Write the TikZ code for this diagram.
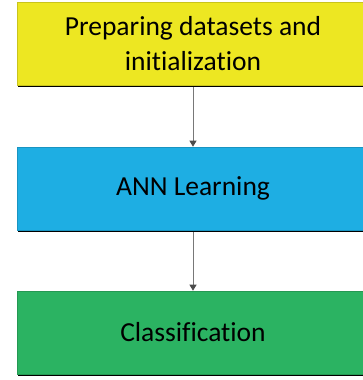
\documentclass[tikz,border=0pt]{standalone}
\usepackage{fontspec}
\setmainfont[Ligatures=NoCommon]{Carlito}
\usetikzlibrary{arrows.meta,shadows}
\definecolor{cyel}{RGB}{237,231,34}
\definecolor{cblu}{RGB}{30,174,227}
\definecolor{cgrn}{RGB}{43,179,98}
\definecolor{carr}{RGB}{120,120,120}
\begin{document}
\begin{tikzpicture}[x=1pt,y=-1pt,
  stepbox/.style={rectangle, minimum width=352pt, minimum height=83pt, inner sep=0pt,
    align=center, font=\fontsize{27.5}{35}\selectfont, text=black, line width=0.6pt,
    drop shadow={shadow xshift=1pt, shadow yshift=-2pt, fill=black, opacity=1}},
  conn/.style={draw=carr, line width=1pt, -{Triangle[length=6pt,width=7pt,fill=black!70,color=black!70]}}]
\useasboundingbox (0,0) rectangle (363,380);
\clip (0,0) rectangle (363,380);
\node[stepbox, fill=cyel, draw=cyel!85!black] (prep) at (193,43.5) {Preparing datasets and\\initialization};
\node[stepbox, fill=cblu, draw=cblu!85!black] (ann) at (193,188.5) {ANN Learning};
\node[stepbox, fill=cgrn, draw=cgrn!85!black] (cls) at (193,332.5) {Classification};
\draw[conn] ([yshift=-2pt]prep.south) -- (ann.north);
\draw[conn] ([yshift=-2pt]ann.south) -- (cls.north);
\end{tikzpicture}
\end{document}
